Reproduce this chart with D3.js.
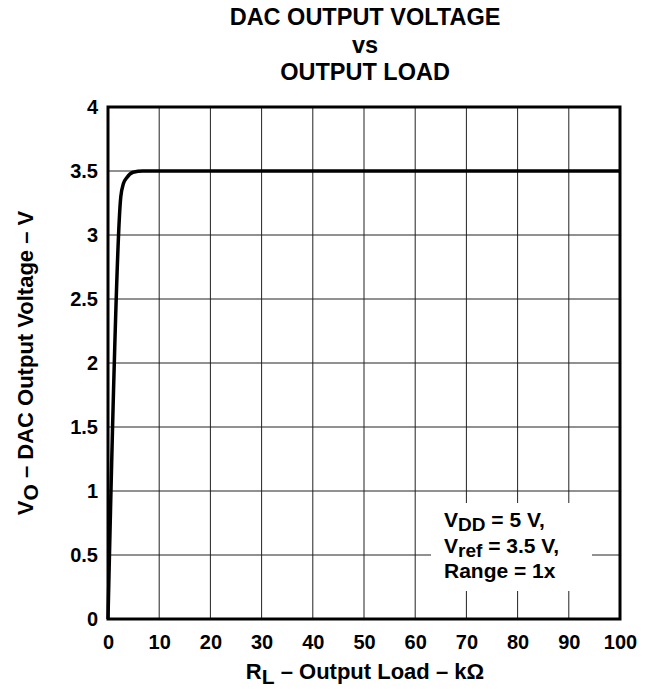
<!DOCTYPE html>
<html>
<head>
<meta charset="utf-8">
<script src="https://cdn.jsdelivr.net/npm/d3@7"></script>
<style>
  body { margin: 0; background: #fff; }
  text { font-family: "Liberation Sans", Arial, sans-serif; font-weight: bold; fill: #000; }
</style>
</head>
<body>
<div id="chart"></div>
<script>
const loadK = [0, 2.5, 3.0, 3.7, 4.9, 6.8, 100];
const voltage = [0, 3.3, 3.4, 3.45, 3.49, 3.5, 3.5];
const xTicks = [0, 10, 20, 30, 40, 50, 60, 70, 80, 90, 100];
const yTicks = [0, 0.5, 1, 1.5, 2, 2.5, 3, 3.5, 4];
const titleLines = ["DAC OUTPUT VOLTAGE", "vs", "OUTPUT LOAD"];

const MARGIN = { TOP: 107, LEFT: 108, RIGHT: 35, BOTTOM: 70 };
const W = 655, H = 689;
const WIDTH = W - MARGIN.LEFT - MARGIN.RIGHT;
const HEIGHT = H - MARGIN.TOP - MARGIN.BOTTOM;

const svg = d3.select("#chart").append("svg")
  .attr("width", W).attr("height", H);

const g = svg.append("g")
  .attr("transform", `translate(${MARGIN.LEFT},${MARGIN.TOP})`);

const x = d3.scaleLinear().domain([0, 100]).range([0, WIDTH]);
const y = d3.scaleLinear().domain([0, 4]).range([HEIGHT, 0]);

// grid
g.selectAll(".vgrid").data(xTicks.slice(1, -1)).join("line")
  .attr("x1", d => x(d)).attr("x2", d => x(d))
  .attr("y1", 0).attr("y2", HEIGHT)
  .attr("stroke", "#222").attr("stroke-width", 1);
g.selectAll(".hgrid").data(yTicks.slice(1, -1)).join("line")
  .attr("y1", d => y(d)).attr("y2", d => y(d))
  .attr("x1", 0).attr("x2", WIDTH)
  .attr("stroke", "#222").attr("stroke-width", 1);

// white box behind the condition note
g.append("rect")
  .attr("x", 323).attr("y", 396)
  .attr("width", 161).attr("height", 88)
  .attr("fill", "#fff");

// frame
g.append("rect")
  .attr("width", WIDTH).attr("height", HEIGHT)
  .attr("fill", "none").attr("stroke", "#000").attr("stroke-width", 3);

// axes labels
const xAxis = d3.axisBottom(x).tickValues(xTicks).tickSize(0).tickPadding(16);
const yAxis = d3.axisLeft(y).tickValues(yTicks).tickSize(0).tickPadding(10)
  .tickFormat(d3.format("~g"));

g.append("g").attr("transform", `translate(0,${HEIGHT})`).call(xAxis)
  .call(a => a.select(".domain").remove())
  .selectAll("text").style("font-size", "20px");
g.append("g").call(yAxis)
  .call(a => a.select(".domain").remove())
  .selectAll("text").style("font-size", "20px");

// curve
const line = d3.line()
  .x((d, i) => x(loadK[i]))
  .y(d => y(d))
  .curve(d3.curveMonotoneX);
g.append("path")
  .datum(voltage)
  .attr("d", line)
  .attr("fill", "none")
  .attr("stroke", "#000")
  .attr("stroke-width", 3.5);

// title
svg.selectAll(".title").data(titleLines).join("text")
  .attr("x", 365).attr("y", (d, i) => 25 + i * 27.5)
  .attr("text-anchor", "middle")
  .style("font-size", "23.5px")
  .text(d => d);

// x title
const xt = svg.append("text")
  .attr("x", 365).attr("y", 679)
  .attr("text-anchor", "middle")
  .style("font-size", "22px");
xt.append("tspan").text("R");
xt.append("tspan").attr("baseline-shift", "-5").style("font-size", "21px").text("L");
xt.append("tspan").text(" – Output Load – kΩ");

// y title
const yt = svg.append("text")
  .attr("transform", "translate(33,363) rotate(-90)")
  .attr("text-anchor", "middle")
  .style("font-size", "22px");
yt.append("tspan").text("V");
yt.append("tspan").attr("baseline-shift", "-5").style("font-size", "21px").text("O");
yt.append("tspan").text(" – DAC Output Voltage – V");

// conditions note
const note = [["V", "DD", " = 5 V,"], ["V", "ref", " = 3.5 V,"], ["Range = 1x", "", ""]];
note.forEach((n, i) => {
  const t = svg.append("text")
    .attr("x", 444).attr("y", 527 + i * 25.7)
    .style("font-size", "21px");
  t.append("tspan").text(n[0]);
  if (n[1]) {
    t.append("tspan").attr("baseline-shift", "-4").style("font-size", "19px").text(n[1]);
    t.append("tspan").text(n[2]);
  }
});
</script>
</body>
</html>
